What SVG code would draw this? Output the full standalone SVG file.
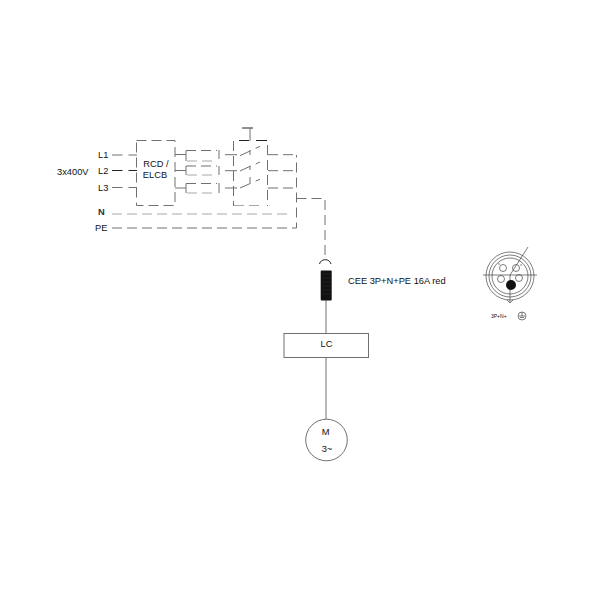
<svg xmlns="http://www.w3.org/2000/svg" width="600" height="600" viewBox="0 0 600 600">
<style>
text{font-family:"Liberation Sans",Arial,sans-serif;font-size:9.300px;fill:#111}
.t{text-anchor:middle}
.w{fill:none;stroke:#707070;stroke-width:1}
.k{fill:none;stroke:#222;stroke-width:1}
.d{fill:none;stroke:#707070;stroke-width:1;stroke-dasharray:10 5}
.l{fill:none;stroke:#a8a8a8;stroke-width:1;stroke-dasharray:10 5}
.c{fill:none;stroke:#444;stroke-width:.7}
</style>
<g id="connectors">
<path class="w" d="M112 155H122.500M128.500 155H137M112 187.500H122.500M128.500 187.500H137"/>
<path class="k" d="M112 170.500H122.500M128.500 170.500H137"/>
<path class="l" d="M112 214H292"/>
<path class="d" d="M112 228H296.500V155"/>
<path class="w" d="M175 154.500H186V150.500M175 170.500H186V166M175 188H186V183.500M186 154.500V161M186 170.500V175M186 188V193"/>
<path class="d" d="M186 150.500H217M186 166H217M186 183.500H217"/>
<path class="l" d="M187 161H216M187 175H216M187 193H216"/>
<path class="w" d="M219 150V159M219 166V175M219 183V193"/>
<path class="w" d="M225 154.700H237M225 170.700H237M225 188H237"/>
<path class="w" d="M240 155.700L250.700 150.700M255.700 148.300L260 146.300M240 171L250.700 166M255.700 164L260 162M240 188L250.700 183.300M255.700 181L260 179.300"/>
<path class="d" d="M268 154.700H296.500M268 170.700H296.500M268 188H296.500"/>
<path class="d" d="M296.500 198.500H325V258"/>
<path class="w" d="M326 300V333.500M326 357.500V419.500"/>
<path class="k" d="M242 128H253"/>
<path class="w" d="M250 128V141"/>
<path class="k" d="M239 140.500H249M256 140.500H267"/>
<path class="k" d="M319.500 264A6 6 0 0 1 331 264"/>
</g>
<g id="rcd">
<rect class="d" x="136.500" y="140.500" width="38.500" height="65"/>
<text class="t" x="156" y="167">RCD /</text>
<text class="t" x="155" y="178">ELCB</text>
</g>
<g id="switch">
<path class="d" d="M233.500 141V206"/>
<path class="l" d="M234 205.500H262"/>
<path class="d" d="M267.500 145V206"/>
<path class="w" d="M250 150V155M250 166V170M250 177V183"/>
</g>
<g id="labels">
<text x="98" y="158">L1</text>
<text x="98" y="174">L2</text>
<text x="98" y="191">L3</text>
<text x="98" y="215" font-weight="bold" style="fill:#234">N</text>
<text x="95" y="231">PE</text>
<text x="57" y="175">3x400V</text>
</g>
<g id="plug">
<rect x="320.700" y="270.500" width="11" height="30" fill="#111" rx="1"/>
<path stroke="#333" stroke-width=".5" d="M322 274H330M322 278H330M322 282H330M322 286H330M322 290H330M322 294H330"/>
<text x="348" y="284">CEE 3P+N+PE 16A red</text>
</g>
<g id="lc">
<rect x="284" y="333.500" width="84.500" height="24" fill="#fff" stroke="#707070"/>
<text class="t" x="326.500" y="347">LC</text>
</g>
<g id="motor">
<circle cx="326.500" cy="440" r="20.800" fill="#fff" stroke="#707070"/>
<text class="t" x="325.500" y="435">M</text>
<text class="t" x="327" y="452">3~</text>
</g>
<g id="socket">
<circle class="c" cx="510" cy="276" r="24"/>
<circle class="c" cx="510" cy="276" r="21"/>
<circle class="c" cx="510" cy="276" r="18"/>
<path class="c" d="M507 300L510 303L513 300"/>
<path class="c" d="M483 275H537M510 275V302M510 275L528 247"/>
<circle cx="511" cy="285" r="5" fill="#111"/>
<circle class="c" cx="503" cy="268" r="3.500"/>
<circle class="c" cx="516" cy="268" r="3.500"/>
<circle class="c" cx="501" cy="279" r="3.500"/>
<circle class="c" cx="519" cy="278" r="3.500"/>
<path stroke="#3a78b0" stroke-width=".8" d="M498 264H500"/>
<path stroke="#3a78b0" stroke-width=".8" d="M520 265H522"/>
<text x="491" y="318" style="font-size:5px">3P+N+</text>
<circle class="c" cx="522" cy="316" r="4"/>
<path class="c" d="M522 312V316M519 316H525M520 317.500H524"/>
</g>
</svg>
